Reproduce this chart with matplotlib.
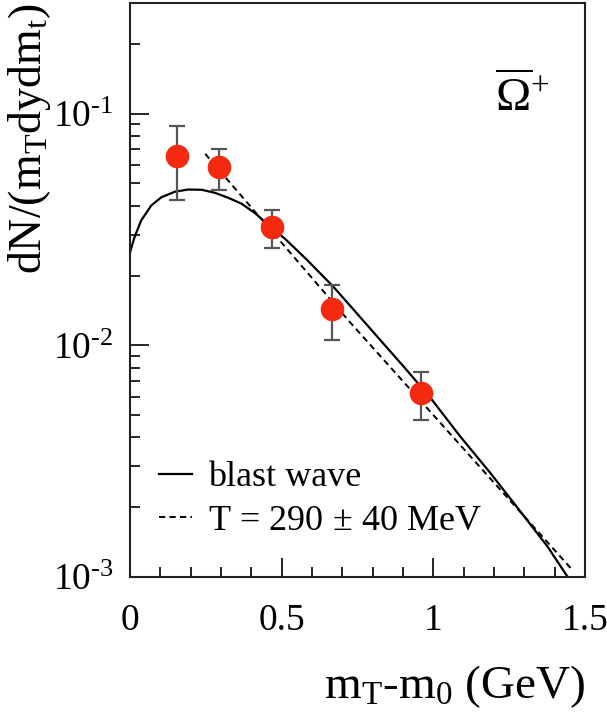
import matplotlib
matplotlib.use("Agg")
import matplotlib.pyplot as plt
from matplotlib.ticker import LogLocator, MultipleLocator, NullFormatter, FuncFormatter
import math

plt.rcParams['font.family'] = ['Liberation Serif', 'DejaVu Serif']
plt.rcParams['mathtext.fontset'] = 'custom'
plt.rcParams['mathtext.rm'] = 'Liberation Serif'
plt.rcParams['mathtext.it'] = 'Liberation Serif:italic'
plt.rcParams['mathtext.bf'] = 'Liberation Serif:bold'
plt.rcParams['axes.unicode_minus'] = False

# data points (mT - m0 in GeV, yield) with asymmetric errors
pt_x = [0.154, 0.295, 0.468, 0.666, 0.960]
pt_y = [0.0659, 0.0587, 0.0324, 0.0143, 0.0062]
pt_hi = [0.0888, 0.0700, 0.0385, 0.0182, 0.00765]
pt_lo = [0.0422, 0.0469, 0.0263, 0.0105, 0.00475]

# blast wave curve
bw_x = [0.0, 0.002, 0.015, 0.037, 0.070, 0.103, 0.148, 0.192, 0.236, 0.280,
        0.324, 0.368, 0.412, 0.456, 0.511, 0.583, 0.672, 0.749, 0.826, 0.903,
        0.991, 1.090, 1.189, 1.288, 1.377, 1.443]
bw_y = [0.0250, 0.0257, 0.0293, 0.0346, 0.0401, 0.0435, 0.0460, 0.0470, 0.0469,
        0.0455, 0.0433, 0.0408, 0.0372, 0.0331, 0.0288, 0.0234, 0.0178, 0.01368,
        0.0105, 0.00807, 0.00592, 0.00402, 0.0028, 0.00191, 0.00135, 0.00100]

# thermal exponential T = 290 MeV
exp_x = [0.248, 0.727, 1.459]
exp_y = [0.0670, 0.0125, 0.00107]

fig = plt.figure(figsize=(6.07, 7.13), dpi=100)
ax = fig.add_axes([130/607, 1-577/713, (585-130)/607, (577-3)/713])

ax.plot(bw_x, bw_y, color='black', lw=1.6, label='blast wave')
ax.plot(exp_x, exp_y, color='black', lw=1.4, ls=(0, (3.2, 2.2)),
        label=r'T = 290$\,\pm\,$40 MeV')

yerr = [[y - l for y, l in zip(pt_y, pt_lo)], [h - y for y, h in zip(pt_y, pt_hi)]]
ax.errorbar(pt_x, pt_y, yerr=yerr, fmt='none', ecolor='#555555', elinewidth=1.6,
            capsize=5.5, capthick=1.6, zorder=3)
ax.plot(pt_x, pt_y, 'o', color='#f42a10', markersize=17, markeredgewidth=0, zorder=4)

ax.set_yscale('log')
ax.set_xlim(0, 1.5)
ax.set_ylim(1e-3, 0.3)

ax.xaxis.set_minor_locator(MultipleLocator(0.1))
ax.set_xticks([0, 0.5, 1, 1.5])
ax.set_xticklabels(['0', '0.5', '1', '1.5'])
ax.yaxis.set_major_locator(LogLocator(base=10, numticks=10))
ax.yaxis.set_minor_locator(LogLocator(base=10, subs=range(2, 10), numticks=20))
ax.yaxis.set_minor_formatter(NullFormatter())


def ylog_fmt(v, pos):
    e = int(round(math.log10(v)))
    sign = '\u2010' if e < 0 else ''
    return '$\\mathdefault{10^{' + sign + str(abs(e)) + '}}$'


ax.yaxis.set_major_formatter(FuncFormatter(ylog_fmt))

ax.tick_params(which='both', direction='in', top=False, right=False, labelsize=27, width=1.2)
ax.tick_params(which='major', length=14)
ax.tick_params(which='minor', length=7)
ax.tick_params(axis='x', which='major', pad=19)
ax.tick_params(axis='y', which='major', pad=12)
for s in ax.spines.values():
    s.set_linewidth(1.5)
    s.set_color('#222222')

ax.set_xlabel(r'm$_{\rm T}$-m$_0$ (GeV)', fontsize=34, loc='right', labelpad=18)
ax.set_ylabel(r'dN/(m$_{\rm T}$dydm$_{\rm t}$)', fontsize=33, loc='top', labelpad=0)

ax.text(0.861, 0.835, r'$\overline{\Omega}^{+}$', transform=ax.transAxes,
        fontsize=34, ha='center', va='center')

ax.legend(loc='center left', bbox_to_anchor=(0.064, 0.135), frameon=False,
          fontsize=26, handlelength=0.9, handletextpad=0.45, labelspacing=0.28,
          borderpad=0, borderaxespad=0)

fig.savefig('out.png', dpi=100)
